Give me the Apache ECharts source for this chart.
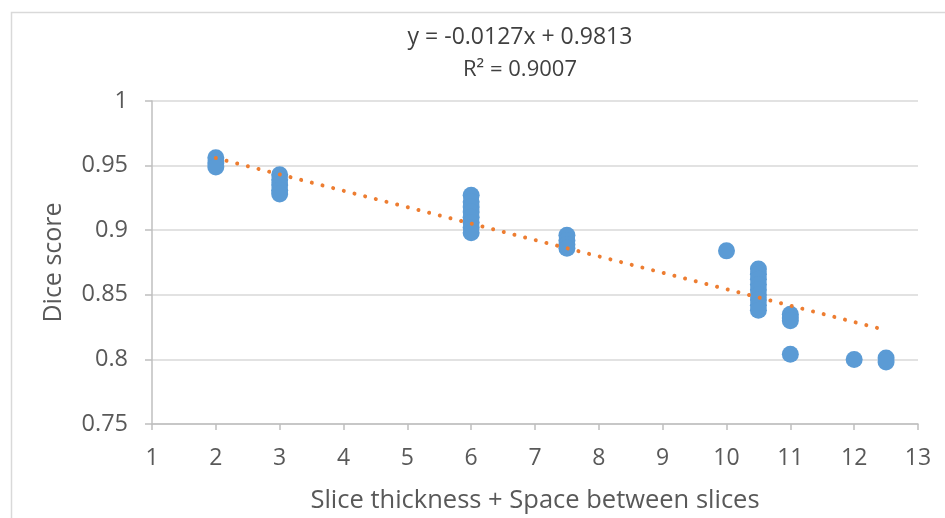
<!DOCTYPE html>
<html>
<head>
<meta charset="utf-8">
<script src="https://cdn.jsdelivr.net/npm/echarts@6/dist/echarts.min.js"></script>
<style>
html,body{margin:0;padding:0;background:#fff;}
#c{width:945px;height:518px;}
</style>
</head>
<body>
<div id="c"></div>
<script>
// Scatter data (x = slice thickness + spacing, y = Dice score)
const xValues = [2,2,2, 3,3,3,3,3, 6,6,6,6,6,6,6,6, 7.5,7.5,7.5,7.5, 10, 10.5,10.5,10.5,10.5,10.5,10.5,10.5,10.5,10.5, 11,11,11,11, 12, 12.5,12.5];
const yValues = [0.956,0.952,0.949, 0.943,0.939,0.935,0.931,0.928, 0.927,0.922,0.918,0.914,0.910,0.906,0.902,0.898, 0.896,0.892,0.889,0.886, 0.884, 0.870,0.866,0.862,0.858,0.854,0.850,0.846,0.842,0.838, 0.835,0.832,0.830,0.804, 0.800, 0.801,0.798];
// Trendline endpoints as drawn
const trendX = [2, 12.5];
const trendY = [0.9559, 0.8226];
const equationText = 'y = -0.0127x + 0.9813';
const r2Text = 'R² = 0.9007';
const xAxisName = 'Slice thickness + Space between slices';
const yAxisName = 'Dice score';

const font = '"Open Sans", "Noto Sans", sans-serif';
const chart = echarts.init(document.getElementById('c'), null, {renderer: 'canvas'});
chart.setOption({
  animation: false,
  backgroundColor: '#fff',
  graphic: [
    {type: 'rect', shape: {x: 11.5, y: 12.5, width: 1000, height: 600}, style: {fill: 'none', stroke: '#d9d9d9', lineWidth: 1.5}, z: -1},
    {type: 'text', x: 520, y: 37, style: {text: equationText, font: '23px ' + font, fill: '#404040', align: 'center', verticalAlign: 'middle'}},
    {type: 'text', x: 520, y: 70, style: {text: r2Text, font: '22px ' + font, fill: '#404040', align: 'center', verticalAlign: 'middle'}}
  ],
  grid: {left: 152, right: 27, top: 101, bottom: 94, containLabel: false, outerBoundsMode: 'none'},
  xAxis: {
    type: 'value', min: 1, max: 13, interval: 1,
    name: xAxisName, nameLocation: 'middle', nameGap: 64,
    nameTextStyle: {fontSize: 25.5, color: '#595959', fontFamily: font},
    axisLine: {show: true, lineStyle: {color: '#bfbfbf', width: 1.5}},
    axisTick: {show: true, inside: false, length: 6, lineStyle: {color: '#bfbfbf', width: 1.5}},
    axisLabel: {fontSize: 23, color: '#595959', fontFamily: font, margin: 23},
    splitLine: {show: false}
  },
  yAxis: {
    type: 'value', min: 0.75, max: 1, interval: 0.05,
    name: yAxisName, nameLocation: 'middle', nameGap: 86, nameRotate: 90,
    nameTextStyle: {fontSize: 25, color: '#595959', fontFamily: font},
    axisLine: {show: true, lineStyle: {color: '#bfbfbf', width: 1.5}},
    axisTick: {show: true, inside: false, length: 7, lineStyle: {color: '#bfbfbf', width: 1.5}},
    axisLabel: {fontSize: 23.5, color: '#595959', fontFamily: font, margin: 24,
      formatter: v => String(parseFloat(v.toFixed(2)))},
    splitLine: {show: true, lineStyle: {color: '#d9d9d9', width: 1.5}}
  },
  series: [
    {
      type: 'scatter',
      data: xValues.map((x, i) => [x, yValues[i]]),
      symbol: 'circle', symbolSize: 17,
      itemStyle: {color: '#5b9bd5', opacity: 1},
      z: 2
    },
    {
      type: 'line',
      data: trendX.map((x, i) => [x, trendY[i]]),
      showSymbol: false, symbol: 'none',
      lineStyle: {color: '#ed7d31', width: 4, type: [0.01, 11], cap: 'round'},
      z: 3
    }
  ]
});
</script>
</body>
</html>
